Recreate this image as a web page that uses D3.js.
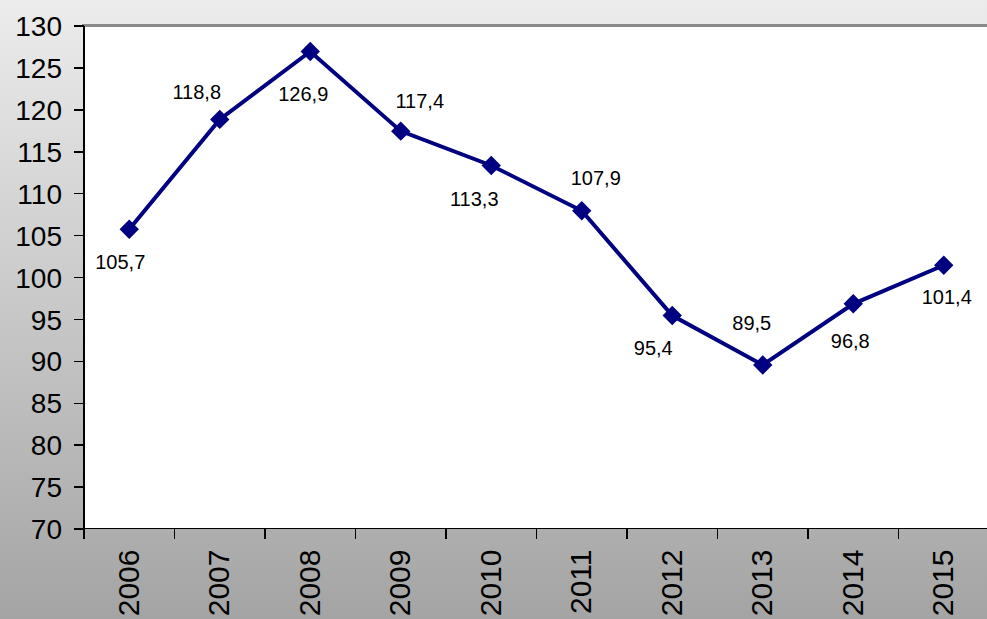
<!DOCTYPE html>
<html lang="en">
	<head>
		<meta charset="utf-8">
		<title>Index 2006-2015</title>
		<script type="text/javascript" src="https://cdn.jsdelivr.net/npm/d3@7"></script>
		<style>
			body { margin: 0; overflow: hidden; }
			text { font-family: "Liberation Sans", Arial, sans-serif; fill: #000; }
			.axis path, .axis line { fill: none; stroke: #000; stroke-width: 1.5px; shape-rendering: crispEdges; }
		</style>
	</head>
	<body>
		<script type="text/javascript">

			// chart size
			var w = 987;
			var h = 619;

			// data
			var years = ["2006","2007","2008","2009","2010","2011","2012","2013","2014","2015"];
			var values = [105.7, 118.8, 126.9, 117.4, 113.3, 107.9, 95.4, 89.5, 96.8, 101.4];
			var yTicks = [70, 75, 80, 85, 90, 95, 100, 105, 110, 115, 120, 125, 130];

			// where each value label sits relative to its marker (dx, dy)
			var labelOffsets = [[-9,33],[-23,-27],[-7,43],[19,-30],[-17,33],[14,-33],[-19,32],[-11,-42],[-3,37],[3,32]];

			// plot area edges (window.top is taken, so prefixed names)
			var plotLeft = 84, plotTop = 25.5, plotBottom = 528.5, plotRight = 989;

			var svg = d3.select("body").append("svg")
				.attr("width", w)
				.attr("height", h);

			// grey background fading darker to the bottom
			var grad = svg.append("defs").append("linearGradient")
				.attr("id", "bg").attr("x1", 0).attr("y1", 0).attr("x2", 0).attr("y2", 1);
			grad.append("stop").attr("offset", "0%").attr("stop-color", "#ececec");
			grad.append("stop").attr("offset", "100%").attr("stop-color", "#a4a4a4");
			svg.append("rect").attr("width", w).attr("height", h).attr("fill", "url(#bg)");

			var xScale = d3.scaleBand()
				.domain(years)
				.range([plotLeft, plotRight]);

			var yScale = d3.scaleLinear()
				.domain([70, 130])
				.range([plotBottom, plotTop]);

			// plot area
			svg.append("rect")
				.attr("x", plotLeft).attr("y", plotTop)
				.attr("width", plotRight - plotLeft).attr("height", plotBottom - plotTop)
				.attr("fill", "#fff");
			svg.append("line")
				.attr("x1", plotLeft - 2).attr("x2", w)
				.attr("y1", plotTop).attr("y2", plotTop)
				.attr("stroke", "#8a8a8a").attr("stroke-width", 3);

			// y axis
			var yAxis = d3.axisLeft(yScale).tickValues(yTicks).tickSize(10).tickPadding(12);
			var gy = svg.append("g").attr("class", "axis")
				.attr("transform", "translate(" + plotLeft + ",0)")
				.call(yAxis);
			gy.select(".domain").attr("d", "M0," + plotTop + "V" + plotBottom);
			gy.selectAll("text").style("font-size", "28px").attr("dy", "0.36em");

			// x axis with ticks on category boundaries
			var gx = svg.append("g").attr("class", "axis")
				.attr("transform", "translate(0," + plotBottom + ")");
			gx.append("line").attr("x1", plotLeft).attr("x2", plotRight);
			gx.selectAll(".tk")
				.data(years.concat(["end"]))
				.enter().append("line")
				.attr("x1", function(d, i){ return plotLeft + i * xScale.bandwidth(); })
				.attr("x2", function(d, i){ return plotLeft + i * xScale.bandwidth(); })
				.attr("y1", 0).attr("y2", 10);
			gx.selectAll(".lbl")
				.data(years)
				.enter().append("text")
				.attr("transform", function(d){
					return "translate(" + (xScale(d) + xScale.bandwidth() / 2 - 1) + ",21) rotate(-90)";
				})
				.attr("text-anchor", "end")
				.attr("dominant-baseline", "central")
				.style("font-size", "30px")
				.text(function(d){ return d; });

			// line and markers
			var line = d3.line()
				.x(function(d, i){ return xScale(years[i]) + xScale.bandwidth() / 2; })
				.y(function(d){ return yScale(d); });

			svg.append("path")
				.datum(values)
				.attr("d", line)
				.attr("fill", "none")
				.attr("stroke", "#000080")
				.attr("stroke-width", 4);

			svg.selectAll(".marker")
				.data(values)
				.enter().append("path")
				.attr("d", d3.symbol().type(d3.symbolDiamond2).size(240))
				.attr("transform", function(d, i){
					return "translate(" + (xScale(years[i]) + xScale.bandwidth() / 2) + "," + yScale(d) + ")";
				})
				.attr("fill", "#000080");

			// value labels
			svg.selectAll(".val")
				.data(values)
				.enter().append("text")
				.attr("x", function(d, i){ return xScale(years[i]) + xScale.bandwidth() / 2 + labelOffsets[i][0]; })
				.attr("y", function(d, i){ return yScale(d) + labelOffsets[i][1]; })
				.attr("text-anchor", "middle")
				.attr("dominant-baseline", "central")
				.style("font-size", "20px")
				.text(function(d){ return d.toFixed(1).replace(".", ","); });

		</script>
	</body>
</html>
